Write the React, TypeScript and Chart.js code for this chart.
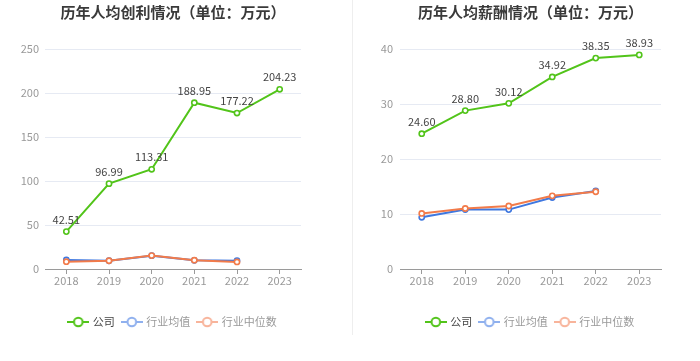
import React, { useEffect, useRef } from "react";
import { Chart, registerables } from "chart.js";

Chart.register(...registerables);

// ---- data ----
const years = ["2018", "2019", "2020", "2021", "2022", "2023"];
const seriesNames = ["公司", "行业均值", "行业中位数"];

const profitTitle = "历年人均创利情况（单位：万元）";
const profitCompany = [42.51, 96.99, 113.31, 188.95, 177.22, 204.23];
const profitIndustryAvg = [10.2, 9.4, 15.1, 9.9, 9.5, null];
const profitIndustryMedian = [8.3, 9.4, 15.3, 10.0, 8.0, null];
const profitAxisMax = 250;
const profitAxisStep = 50;

const salaryTitle = "历年人均薪酬情况（单位：万元）";
const salaryCompany = [24.6, 28.8, 30.12, 34.92, 38.35, 38.93];
const salaryIndustryAvg = [9.4, 10.8, 10.8, 13.0, 14.2, null];
const salaryIndustryMedian = [10.1, 11.0, 11.45, 13.3, 14.05, null];
const salaryAxisMax = 40;
const salaryAxisStep = 10;

// ---- styles ----
const FONT = "'Noto Sans CJK SC', 'Noto Sans', sans-serif";
const lineColors = ["#52c41a", "#3f78e0", "#f27b4a"];
const drawOrder = [0, 2, 1];
const legendIconColors = ["#52c41a", "#8fb0ee", "#f8b49b"];
const legendTextColors = ["#444444", "#999999", "#999999"];

function makeIcon(color: string): HTMLCanvasElement {
  const c = document.createElement("canvas");
  c.width = 22;
  c.height = 12;
  const ctx = c.getContext("2d")!;
  ctx.strokeStyle = color;
  ctx.lineWidth = 2;
  ctx.beginPath();
  ctx.moveTo(0, 6);
  ctx.lineTo(22, 6);
  ctx.stroke();
  ctx.beginPath();
  ctx.arc(11, 6, 4.3, 0, Math.PI * 2);
  ctx.fillStyle = "#ffffff";
  ctx.fill();
  ctx.stroke();
  return c;
}

const titlePlugin = {
  id: "customTitle",
  afterDraw(chart: any) {
    const text = chart.options.plugins.customTitle?.text;
    if (!text) return;
    const { ctx, chartArea } = chart;
    ctx.save();
    ctx.font = `bold 15px ${FONT}`;
    ctx.fillStyle = "#3a3a3a";
    ctx.textAlign = "center";
    ctx.textBaseline = "middle";
    ctx.fillText(text, (chartArea.left + chartArea.right) / 2, 12);
    ctx.restore();
  },
};

const valueLabelPlugin = {
  id: "valueLabels",
  afterDatasetsDraw(chart: any) {
    const { ctx } = chart;
    const meta = chart.getDatasetMeta(0);
    const data = chart.data.datasets[0].data;
    ctx.save();
    ctx.font = `11px ${FONT}`;
    ctx.fillStyle = "#444444";
    ctx.textAlign = "center";
    ctx.textBaseline = "middle";
    meta.data.forEach((pt: any, i: number) => {
      const v = data[i];
      if (v == null) return;
      ctx.fillText(Number(v).toFixed(2), pt.x, pt.y - 12);
    });
    ctx.restore();
  },
};

type Props = {
  title: string;
  company: (number | null)[];
  avg: (number | null)[];
  median: (number | null)[];
  max: number;
  step: number;
  yWidth: number;
  rightPad: number;
  tickPad: number;
};

function LineChart(p: Props) {
  const ref = useRef<HTMLCanvasElement>(null);
  useEffect(() => {
    const icons = legendIconColors.map(makeIcon);
    const mk = (label: string, data: any[], i: number) => ({
      label,
      data,
      order: drawOrder[i],
      borderColor: lineColors[i],
      backgroundColor: "#ffffff",
      borderWidth: 2,
      pointRadius: 2.6,
      pointBorderWidth: 1.6,
      pointBackgroundColor: "#ffffff",
      pointBorderColor: lineColors[i],
      tension: 0,
      spanGaps: false,
    });
    const chart = new Chart(ref.current!, {
      type: "line",
      data: {
        labels: years,
        datasets: [
          mk(seriesNames[0], p.company, 0),
          mk(seriesNames[1], p.avg, 1),
          mk(seriesNames[2], p.median, 2),
        ],
      },
      options: {
        animation: false,
        responsive: false,
        devicePixelRatio: 1,
        layout: { padding: { top: 49, left: 0, right: p.rightPad, bottom: 23.5 } },
        scales: {
          x: {
            offset: true,
            afterFit: (s: any) => {
              s.height = 39.5;
            },
            grid: {
              display: true,
              drawOnChartArea: false,
              drawTicks: true,
              tickLength: 5,
              offset: false,
              color: "#9a9a9a",
            },
            border: { display: true, color: "#9a9a9a", width: 1 },
            ticks: {
              color: "#999999",
              font: { size: 11, family: FONT },
              padding: 0,
              maxRotation: 0,
            },
          },
          y: {
            min: 0,
            max: p.max,
            afterFit: (s: any) => {
              s.width = p.yWidth;
            },
            grid: { color: "#e6eaf3", drawTicks: false, lineWidth: 1 },
            border: { display: false },
            ticks: {
              stepSize: p.step,
              color: "#999999",
              font: { size: 11, family: FONT },
              padding: p.tickPad,
            },
          },
        },
        plugins: {
          tooltip: { enabled: false },
          title: { display: false },
          customTitle: { text: p.title },
          legend: {
            display: true,
            position: "bottom",
            fullSize: false,
            onClick: () => {},
            labels: {
              usePointStyle: true,
              pointStyleWidth: 18,
              boxHeight: 11,
              padding: 8,
              font: { size: 11, family: FONT },
              generateLabels: (c: any) =>
                c.data.datasets.map((d: any, i: number) => ({
                  text: d.label,
                  pointStyle: icons[i],
                  fillStyle: "#fff",
                  strokeStyle: legendIconColors[i],
                  lineWidth: 0,
                  fontColor: legendTextColors[i],
                  hidden: false,
                  datasetIndex: i,
                })),
            },
          },
        } as any,
      },
      plugins: [titlePlugin, valueLabelPlugin],
    } as any);
    return () => chart.destroy();
  }, []);
  return <canvas ref={ref} width={350} height={361} style={{ width: 350, height: 361, display: "block" }} />;
}

export default function App() {
  return (
    <div style={{ position: "fixed", left: 0, top: 0, width: 700, height: 361, background: "#ffffff" }}>
      <div style={{ position: "absolute", left: 0, top: 0 }}>
        <LineChart
          title={profitTitle}
          company={profitCompany}
          avg={profitIndustryAvg}
          median={profitIndustryMedian}
          max={profitAxisMax}
          step={profitAxisStep}
          yWidth={45}
          rightPad={49}
          tickPad={6}
        />
      </div>
      <div style={{ position: "absolute", left: 352, top: 0, width: 1, height: 335, background: "#eeeeee" }} />
      <div style={{ position: "absolute", left: 350, top: 0 }}>
        <LineChart
          title={salaryTitle}
          company={salaryCompany}
          avg={salaryIndustryAvg}
          median={salaryIndustryMedian}
          max={salaryAxisMax}
          step={salaryAxisStep}
          yWidth={50}
          rightPad={39}
          tickPad={7}
        />
      </div>
    </div>
  );
}
